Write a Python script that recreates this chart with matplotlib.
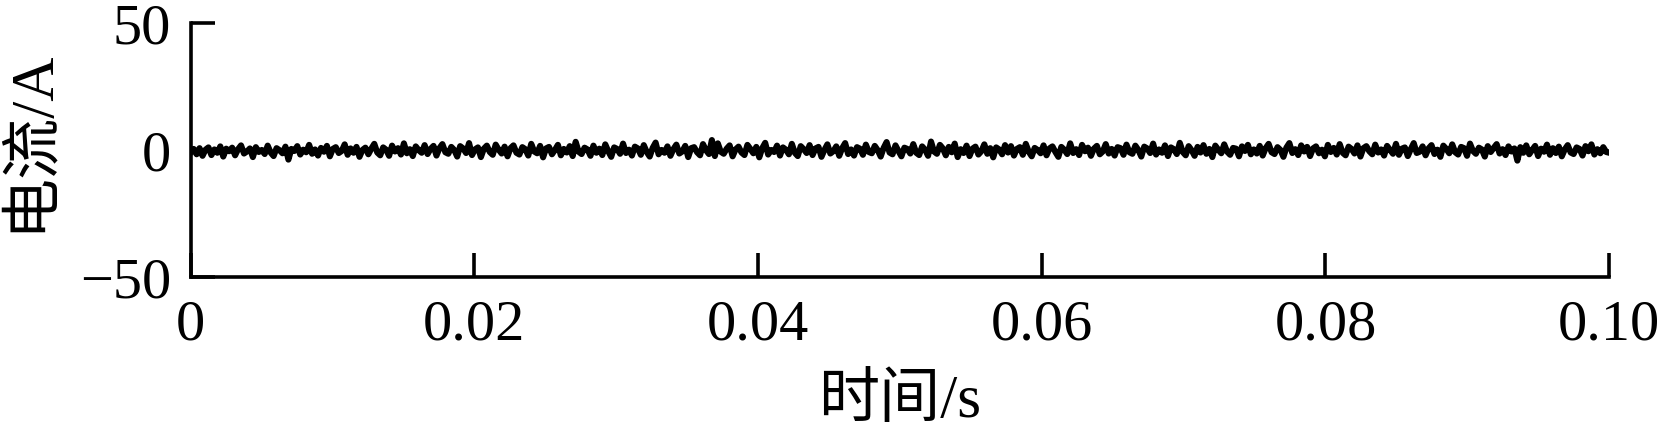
import numpy as np
import matplotlib
matplotlib.use("Agg")
import matplotlib.pyplot as plt

plt.rcParams['font.family'] = ['Liberation Serif', 'Noto Sans CJK SC']
plt.rcParams['axes.unicode_minus'] = True

# current samples (A) left to right
current = [
    -0.8, 0.6, -1.5, 0.9, -2.1, 0.3, 1.2, -1.8, 0.4, -0.9, 1.6, -2.4, 0.7, -0.3, 1.1, -1.9, 0.5, 2.0, -1.2, -0.4,
    0.8, -2.6, 1.3, -0.6, 0.2, -1.4, 1.9, -0.8, -2.2, 0.9, 0.1, -1.1, 1.5, -3.6, 0.6, -0.2, 1.7, -1.6, 0.3, -0.7,
    2.2, -1.3, 0.4, -2.0, 1.0, -0.5, 1.8, -2.3, 0.6, 1.3, -1.0, -0.2, 2.4, -1.7, 0.8, -0.9, 1.4, -2.5, 0.2, 1.1,
    -1.5, 0.7, 2.6, -0.8, -1.9, 1.2, 0.3, -2.1, 1.9, -0.4, 0.9, -1.6, 2.8, -1.1, 0.5, -2.2, 1.6, 0.1, -0.9, 2.1,
    -1.4, 0.6, 1.8, -2.0, 0.9, 2.5, -0.7, -1.3, 1.4, 0.2, -2.4, 1.7, 0.8, -1.0, 2.9, -1.8, 0.4, 1.2, -2.6, 0.7,
    1.9, -0.6, -1.7, 2.3, 0.3, -1.2, 1.5, -2.3, 0.9, 2.0, -0.9, -1.6, 1.3, 0.5, -2.0, 2.6, -0.4, -1.1, 1.8, -2.7,
    0.8, 1.4, -1.5, 0.2, 2.2, -1.9, 0.6, -0.8, 1.7, -2.2, 3.4, -0.5, -1.4, 1.1, 0.4, -2.1, 1.9, -0.9, 0.7, -1.8,
    2.4, -0.3, -2.5, 1.2, 0.6, -1.3, 2.7, -1.0, 0.3, -2.0, 1.5, 0.8, -1.7, 2.1, -0.6, -2.4, 1.0, 3.1, -1.5, 0.2,
    -0.9, 1.6, -2.1, 0.5, 2.3, -1.2, -0.4, 1.8, -2.6, 0.9, 1.3, -0.7, -1.9, 2.5, 0.1, -1.4, 4.1, -2.2, 2.8, -0.5,
    -1.3, 0.7, 2.0, -2.3, 0.4, 1.5, -0.8, -1.8, 2.2, 0.6, -1.1, 1.4, -2.7, 0.9, 3.0, -1.6, 0.2, -0.6, 1.9, -2.0,
    1.2, 0.3, -1.5, 2.6, -0.9, -2.2, 1.7, 0.5, -1.0, 2.1, -1.8, 0.8, 1.4, -2.5, 0.2, 2.4, -1.2, -0.3, 1.6, -2.1,
    0.9, 2.9, -1.4, 0.4, -2.0, 1.3, 0.7, -1.7, 2.3, -0.6, -1.1, 1.8, 0.1, -2.4, 1.0, 3.3, -0.8, -1.5, 2.0, -0.2,
    -2.3, 1.1, 0.6, -1.2, 2.5, -0.9, -1.8, 1.6, 0.3, -2.1, 3.5, -0.4, -1.3, 2.2, 0.8, -1.9, 1.4, -0.7, 2.7, -2.6,
    0.5, -1.0, 1.9, -2.2, 0.7, 1.5, -1.6, -0.3, 2.4, -1.3, 0.9, -2.7, 1.2, 0.4, -1.5, 2.1, -0.8, 1.7, -2.0, 0.6,
    1.3, -1.7, 2.6, -0.5, -2.3, 1.0, 0.2, -1.1, 2.0, -1.9, 0.8, 1.6, -0.6, -2.5, 1.4, 0.3, -1.4, 2.8, -1.0, 0.5,
    -1.8, 2.2, -0.3, 1.1, -2.1, 0.7, 1.8, -1.5, -0.4, 2.5, -1.2, 0.6, -2.0, 1.3, 0.9, -1.7, 2.3, -0.7, -1.3, 1.9,
    0.2, -2.4, 1.5, 0.8, -1.0, 2.7, -1.6, 0.4, -0.9, 2.0, -2.2, 1.2, 0.5, -1.4, 3.0, -0.6, -1.9, 1.7, 0.1, -2.1,
    1.4, -0.8, 2.1, -1.3, 0.6, -2.6, 1.9, 0.3, -1.1, 2.4, -0.5, -1.7, 1.0, 0.7, -2.3, 1.6, -0.2, 2.2, -1.5, 0.4,
    -1.2, 1.8, -2.0, 0.9, 2.6, -0.7, -1.4, 1.3, 0.2, -2.5, 1.1, 2.9, -1.0, 0.5, -1.8, 2.0, -0.4, 1.4, -2.2, 0.8,
    1.6, -1.1, 0.3, -2.3, 2.2, -0.6, 1.0, -1.6, 2.5, -0.9, -1.9, 1.5, 0.6, -1.2, 2.0, -2.4, 0.9, 1.7, -0.3, -1.5,
    2.3, -0.8, 0.4, -2.0, 1.8, 0.2, -1.3, 2.6, -1.7, 0.7, 1.2, -2.2, 0.5, 2.9, -1.0, -0.5, 1.6, -1.9, 0.8, 2.1,
    -1.4, 0.3, -2.5, 1.9, 0.6, -1.1, 2.4, -0.7, -1.6, 1.4, 0.9, -2.1, 2.7, -0.2, -1.3, 1.1, 0.4, -2.4, 1.7, -0.6,
    1.0, 2.5, -1.2, 0.5, -1.8, 1.6, -0.4, 0.8, -4.0, 1.3, -0.9, 2.0, -1.5, 0.2, 1.8, -2.2, 0.7, -0.5, 2.3, -1.7,
    0.9, -1.0, 1.5, -2.3, 0.4, 2.1, -0.8, -1.4, 1.2, 0.6, -2.0, 1.7, -0.3, 2.4, -1.6, 0.5, -1.1, 1.3, -0.6, -0.9,
]
t_end = 0.1
xticks = [0, 0.02, 0.04, 0.06, 0.08, 0.10]
xticklabels = ['0', '0.02', '0.04', '0.06', '0.08', '0.10']
yticks = [-50, 0, 50]

current = np.array(current)
t = np.linspace(0, t_end, len(current))

fig = plt.figure(figsize=(16.61, 4.34), dpi=100)
ax = fig.add_axes([0.1148, 0.3606, 0.854, 0.5854])

ax.plot(t, current, color='black', linewidth=4.4)

ax.set_xlim(0, t_end)
ax.set_ylim(-50, 50)
ax.set_xticks(xticks)
ax.set_xticklabels(xticklabels)
ax.set_yticks(yticks)

for side in ['top', 'right']:
    ax.spines[side].set_visible(False)
for side in ['left', 'bottom']:
    ax.spines[side].set_linewidth(2.6)

ax.tick_params(direction='in', length=17, width=2.6, labelsize=42)
ax.tick_params(axis='x', pad=16)
ax.tick_params(axis='y', pad=14)
ax.set_xlabel('时间/s', fontsize=44, labelpad=16)
ax.set_ylabel('电流/A', fontsize=44, labelpad=12)
ax.yaxis.set_label_coords(-0.093, 0.54)

fig.savefig('out.png', dpi=100)
